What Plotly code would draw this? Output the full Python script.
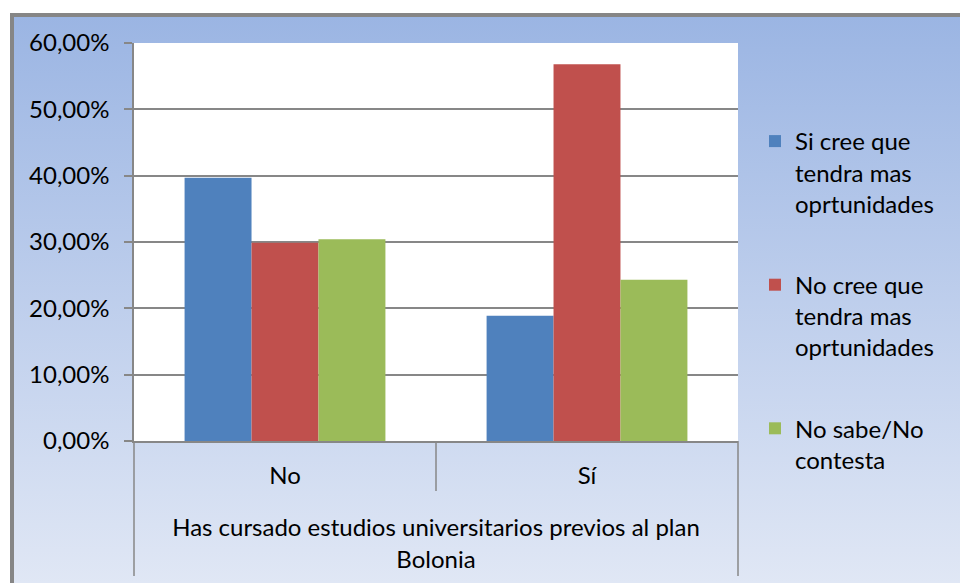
import base64
import plotly.graph_objects as go

categories = ["No", "Sí"]
series_names = [
    "Si cree que<br>tendra mas<br>oprtunidades",
    "No cree que<br>tendra mas<br>oprtunidades",
    "No sabe/No<br>contesta",
]
si_cree = [0.397, 0.189]
no_cree = [0.299, 0.568]
no_sabe = [0.304, 0.243]
y_ticks = [0, 0.1, 0.2, 0.3, 0.4, 0.5, 0.6]
axis_title = "Has cursado estudios universitarios previos al plan<br>Bolonia"

colors = ["#4f81bd", "#c0504d", "#9bbb59"]
grey = "#878787"
FONT = "Lato"

# plot area in pixels, used to place decorations in paper coords
W, H = 960, 583
L, R, T, B = 134, 738, 43, 441


def px(x):
    return (x - L) / (R - L)


def py(y):
    return (B - y) / (B - T)


svg = (
    '<svg xmlns="http://www.w3.org/2000/svg" width="100" height="100" '
    'viewBox="0 0 100 100" preserveAspectRatio="none">'
    '<defs><linearGradient id="g" x1="0" y1="0" x2="0" y2="1">'
    '<stop offset="0" stop-color="#9bb5e3"/>'
    '<stop offset="1" stop-color="#e0e7f5"/>'
    "</linearGradient></defs>"
    '<rect width="100" height="100" fill="url(#g)"/></svg>'
)
gradient = "data:image/svg+xml;base64," + base64.b64encode(svg.encode()).decode()

fig = go.Figure()
for name, vals, color in zip(series_names, [si_cree, no_cree, no_sabe], colors):
    fig.add_trace(
        go.Bar(
            x=categories,
            y=vals,
            name=name,
            legendgroup=name,
            marker=dict(color=color, line=dict(width=0)),
        )
    )

fig.add_layout_image(
    source=gradient,
    xref="paper",
    yref="paper",
    x=px(14),
    y=py(17),
    sizex=px(W) - px(14),
    sizey=py(17) - py(H),
    xanchor="left",
    yanchor="top",
    sizing="stretch",
    layer="below",
)

line = dict(color=grey, width=1.5)
shapes = [
    # white plot area
    dict(type="rect", xref="paper", yref="paper", x0=0, x1=1, y0=0, y1=1,
         fillcolor="white", line=dict(width=0), layer="below"),
    # outer chart border
    dict(type="rect", xref="paper", yref="paper", x0=px(12), x1=px(990),
         y0=py(15), y1=py(620), line=dict(color="#868686", width=4),
         fillcolor="rgba(0,0,0,0)", layer="below"),
    # category dividers below the axis
    dict(type="line", xref="paper", yref="paper", x0=0.5, x1=0.5,
         y0=0, y1=py(491), line=line),
    dict(type="line", xref="paper", yref="paper", x0=0, x1=0,
         y0=0, y1=py(576), line=line),
    dict(type="line", xref="paper", yref="paper", x0=1, x1=1,
         y0=0, y1=py(576), line=line),
]

fig.update_layout(
    width=W,
    height=H,
    margin=dict(l=L, r=W - R, t=T, b=H - B, autoexpand=False),
    paper_bgcolor="white",
    plot_bgcolor="rgba(0,0,0,0)",
    separators=",.",
    font=dict(family=FONT, size=24, color="black"),
    barmode="group",
    bargap=0.335,
    bargroupgap=0,
    shapes=shapes,
    showlegend=True,
    legend=dict(
        x=px(755),
        y=py(119),
        xanchor="left",
        yanchor="top",
        valign="top",
        tracegroupgap=47,
        bgcolor="rgba(0,0,0,0)",
        font=dict(family=FONT, size=24, color="black"),
    ),
)

fig.update_xaxes(
    type="category",
    showline=True,
    linecolor=grey,
    linewidth=1.5,
    ticks="",
    ticklabelstandoff=12,
    tickfont=dict(size=24),
    title=dict(text=axis_title, standoff=32, font=dict(size=24)),
    automargin=False,
)
fig.update_yaxes(
    range=[0, 0.6],
    tickvals=y_ticks,
    tickformat=".2%",
    showline=True,
    linecolor=grey,
    linewidth=1.5,
    showgrid=True,
    gridcolor=grey,
    gridwidth=1.5,
    zeroline=False,
    ticks="outside",
    ticklen=8,
    tickcolor=grey,
    tickwidth=1.5,
    ticklabelstandoff=10,
    tickfont=dict(size=24),
    automargin=False,
)

fig.write_html(
    "out.html",
    config={"displayModeBar": False},
    post_script="document.body.style.margin='0';",
)
